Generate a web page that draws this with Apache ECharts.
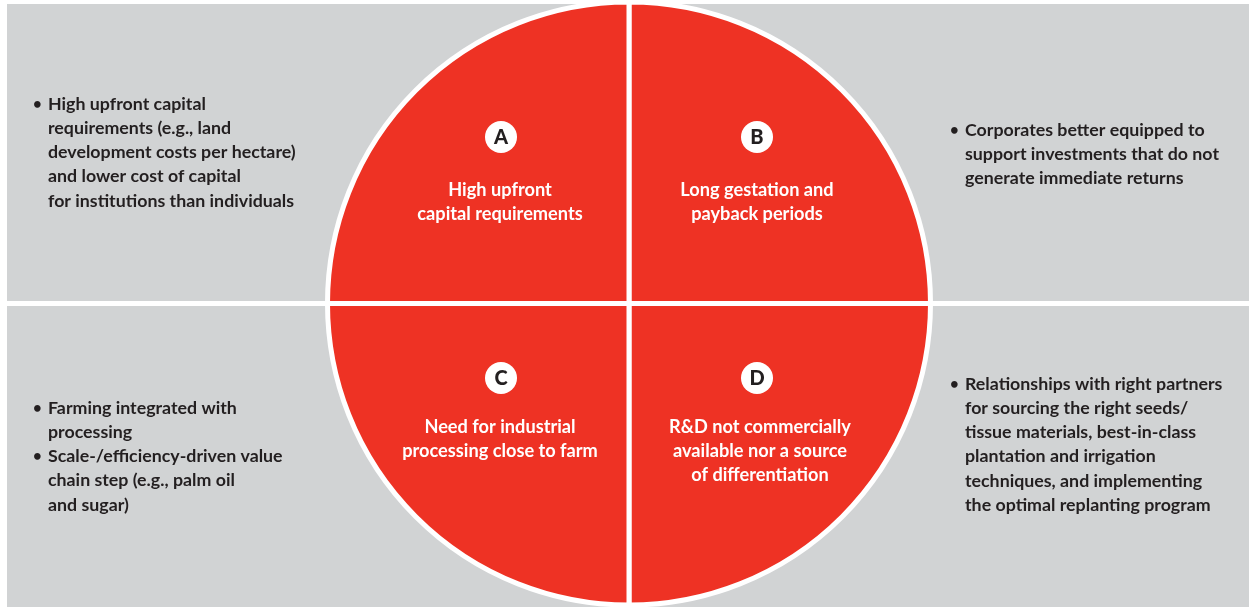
<!DOCTYPE html>
<html>
<head>
<meta charset="utf-8">
<script src="https://cdn.jsdelivr.net/npm/echarts@6/dist/echarts.min.js"></script>
<style>
html,body{margin:0;padding:0;background:#ffffff;}
#chart{width:1249px;height:607px;}
</style>
</head>
<body>
<div id="chart"></div>
<script>
// Quadrants in clockwise order starting at 12 o'clock
const quadrantKeys = ['B', 'D', 'C', 'A'];
const quadrantValues = [1, 1, 1, 1];
const quadrantTitles = {
  A: 'High upfront\ncapital requirements',
  B: 'Long gestation and\npayback periods',
  C: 'Need for industrial\nprocessing close to farm',
  D: 'R&D not commercially\navailable nor a source\nof differentiation'
};
const sideNotes = {
  A: [['High upfront capital', 'requirements (e.g., land', 'development costs per hectare)', 'and lower cost of capital', 'for institutions than individuals']],
  B: [['Corporates better equipped to', 'support investments that do not', 'generate immediate returns']],
  C: [['Farming integrated with', 'processing'], ['Scale-/efficiency-driven value', 'chain step (e.g., palm oil', 'and sugar)']],
  D: [['Relationships with right partners', 'for sourcing the right seeds/', 'tissue materials, best-in-class', 'plantation and irrigation', 'techniques, and implementing', 'the optimal replanting program']]
};

const RED = '#ee3224';
const GRAY = '#d1d3d4';
const DARK = '#231f20';
const FONT = 'Lato, "Open Sans", sans-serif';

// layout
const panels = [
  {x: 7, y: 4, w: 619, h: 297},
  {x: 632, y: 4, w: 617, h: 297},
  {x: 7, y: 306, w: 619, h: 301},
  {x: 632, y: 306, w: 617, h: 301}
];
const badgePos = {A: [501, 137], B: [757, 137], C: [501, 378], D: [757, 378]};
const titlePos = {A: [500, 178], B: [757, 178], C: [500, 415], D: [760, 415]};
const notePos = {A: [48, 92], B: [965, 118], C: [48, 396], D: [965, 372]};
const LH = 24.2;

const graphic = [];
panels.forEach(p => graphic.push({
  type: 'rect', z: 0, shape: {x: p.x, y: p.y, width: p.w, height: p.h},
  style: {fill: GRAY}, silent: true
}));

Object.keys(badgePos).forEach(k => {
  const [cx, cy] = badgePos[k];
  graphic.push({type: 'circle', z: 100, shape: {cx: cx, cy: cy, r: 16}, style: {fill: '#ffffff'}, silent: true});
  graphic.push({type: 'text', z: 101, x: cx, y: cy + 1, style: {
    text: k, fill: DARK, font: '900 20px ' + FONT, textAlign: 'center', textVerticalAlign: 'middle'
  }, silent: true});
  const [tx, ty] = titlePos[k];
  graphic.push({type: 'text', z: 101, x: tx, y: ty, style: {
    text: quadrantTitles[k], fill: '#ffffff', font: 'bold 18.2px ' + FONT,
    textAlign: 'center', textVerticalAlign: 'top', lineHeight: LH
  }, silent: true});
  const [nx, ny] = notePos[k];
  let line = 0;
  sideNotes[k].forEach(bullet => {
    const y = ny + line * LH;
    graphic.push({type: 'text', z: 101, x: nx - 15, y: y, style: {
      text: '\u2022', fill: DARK, font: 'bold 15px ' + FONT, textVerticalAlign: 'top', lineHeight: LH
    }, silent: true});
    graphic.push({type: 'text', z: 101, x: nx, y: y, style: {
      text: bullet.join('\n'), fill: DARK, font: 'bold 17.8px ' + FONT,
      textAlign: 'left', textVerticalAlign: 'top', lineHeight: LH
    }, silent: true});
    line += bullet.length;
  });
});

const chart = echarts.init(document.getElementById('chart'), null, {renderer: 'canvas'});
chart.setOption({
  animation: false,
  backgroundColor: '#ffffff',
  graphic: graphic,
  series: [{
    type: 'pie',
    z: 10,
    center: [629, 303.5],
    radius: [0, 301.5],
    startAngle: 90,
    clockwise: true,
    silent: true,
    label: {show: false},
    labelLine: {show: false},
    itemStyle: {color: RED, borderColor: '#ffffff', borderWidth: 5},
    data: quadrantKeys.map((k, i) => ({name: k, value: quadrantValues[i]}))
  }]
});
</script>
</body>
</html>
